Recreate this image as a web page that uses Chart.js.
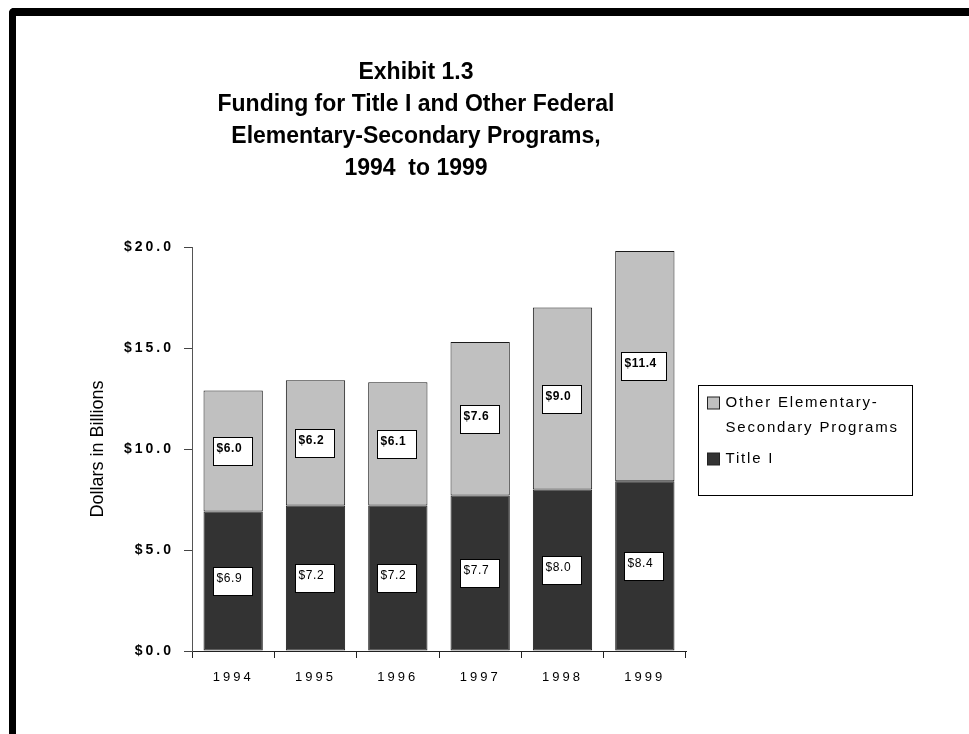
<!DOCTYPE html>
<html>
<head>
<meta charset="utf-8">
<script src="https://cdn.jsdelivr.net/npm/chart.js@4.4.0/dist/chart.umd.min.js"></script>
<style>
  html, body { margin: 0; padding: 0; background: #fff; }
  #wrap { position: relative; width: 969px; height: 734px; overflow: hidden; }
  #frame {
    position: absolute; left: 9px; top: 8px; width: 1000px; height: 800px;
    border-top: 8px solid #000; border-left: 7px solid #000;
    border-top-left-radius: 5px; box-sizing: border-box;
  }
  canvas { position: absolute; left: 0; top: 0; }
</style>
</head>
<body>
<div id="wrap">
  <canvas id="fundingChart" width="969" height="734"></canvas>
  <div id="frame"></div>
</div>
<script>
const FONT = '"Liberation Sans", Arial, sans-serif';

const years = ['1994', '1995', '1996', '1997', '1998', '1999'];
const titleOne = [6.9, 7.2, 7.2, 7.7, 8.0, 8.4];
const otherPrograms = [6.0, 6.2, 6.1, 7.6, 9.0, 11.4];
const yTicks = [0, 5, 10, 15, 20];
const titleLines = [
  'Exhibit 1.3',
  'Funding for Title I and Other Federal',
  'Elementary-Secondary Programs,',
  '1994  to 1999'
];
const legendLines = {
  other: ['Other Elementary-', 'Secondary Programs'],
  title: ['Title I']
};

const canvas = document.getElementById('fundingChart');

// tick labels are drawn after the bars (ticks.z = 1), so spacing is switched on there;
// axis title and grid keep normal spacing
const spacingPlugin = {
  id: 'spacing',
  beforeDraw(chart) {
    chart.ctx.letterSpacing = '0px';
  },
  afterDatasetsDraw(chart) {
    chart.ctx.letterSpacing = '3px';
  }
};

// four-line bold heading
const headingPlugin = {
  id: 'heading',
  afterDraw(chart) {
    const ctx = chart.ctx;
    ctx.save();
    ctx.letterSpacing = '0px';
    ctx.font = 'bold 23px ' + FONT;
    ctx.fillStyle = '#000';
    ctx.textAlign = 'center';
    ctx.textBaseline = 'middle';
    titleLines.forEach((line, i) => ctx.fillText(line, 416, 73 + i * 32));
    ctx.restore();
  }
};

// white boxes with the value of each segment
const valueBoxPlugin = {
  id: 'valueBoxes',
  afterDatasetsDraw(chart) {
    const ctx = chart.ctx;
    ctx.save();
    ctx.letterSpacing = '0.6px';
    chart.data.datasets.forEach((ds, di) => {
      const meta = chart.getDatasetMeta(di);
      ctx.font = ds.labelWeight + ' 12px ' + FONT;
      meta.data.forEach((bar, i) => {
        const p = bar.getProps(['x', 'y', 'base'], true);
        const cy = (p.y + p.base) / 2;
        const text = '$' + ds.data[i].toFixed(1);
        const w = ctx.measureText(text).width;
        const bw = Math.round(w + 13), bh = 28;
        const left = Math.round(p.x - bw / 2) - 0.5;
        const top = Math.round(cy - bh / 2) + 0.5;
        ctx.fillStyle = '#fff';
        ctx.fillRect(left, top, bw, bh);
        ctx.strokeStyle = '#000';
        ctx.lineWidth = 1;
        ctx.strokeRect(left, top, bw, bh);
        ctx.fillStyle = '#000';
        ctx.textAlign = 'left';
        ctx.textBaseline = 'middle';
        ctx.fillText(text, left + 3, cy - 2);
      });
    });
    ctx.restore();
  }
};

// boxed legend on the right, top series first
const legendBoxPlugin = {
  id: 'legendBox',
  afterDraw(chart) {
    const ctx = chart.ctx;
    const area = chart.chartArea;
    const left = Math.round(area.right + 12) + 0.5;
    const top = 385.5;
    ctx.save();
    ctx.fillStyle = '#fff';
    ctx.fillRect(left, top, 214, 110);
    ctx.strokeStyle = '#000';
    ctx.lineWidth = 1;
    ctx.strokeRect(left, top, 214, 110);
    ctx.letterSpacing = '1.8px';
    ctx.font = '15px ' + FONT;
    ctx.textAlign = 'left';
    ctx.textBaseline = 'middle';
    let y = 403;
    chart.data.datasets.slice().reverse().forEach(ds => {
      ctx.fillStyle = ds.backgroundColor;
      ctx.fillRect(left + 9, y - 6, 12, 12);
      ctx.strokeStyle = '#222';
      ctx.strokeRect(left + 9, y - 6, 12, 12);
      ctx.fillStyle = '#000';
      ds.legendLines.forEach(line => {
        ctx.fillText(line, left + 27, y);
        y += 25;
      });
      y += 6;
    });
    ctx.restore();
  }
};

new Chart(canvas, {
  type: 'bar',
  data: {
    labels: years,
    datasets: [
      {
        label: 'Title I',
        data: titleOne,
        backgroundColor: '#333333',
        borderColor: '#1a1a1a',
        borderWidth: 1,
        borderSkipped: false,
        labelWeight: 'normal',
        legendLines: legendLines.title
      },
      {
        label: 'Other Elementary-Secondary Programs',
        data: otherPrograms,
        backgroundColor: '#c0c0c0',
        borderColor: '#1a1a1a',
        borderWidth: 1,
        borderSkipped: false,
        labelWeight: 'bold',
        legendLines: legendLines.other
      }
    ]
  },
  options: {
    responsive: false,
    animation: false,
    devicePixelRatio: 1,
    layout: {
      padding: { left: 87, right: 283, top: 247, bottom: 43 }
    },
    plugins: {
      legend: { display: false },
      title: { display: false },
      tooltip: { enabled: false }
    },
    scales: {
      x: {
        stacked: true,
        categoryPercentage: 1,
        barPercentage: 0.675,
        grid: { offset: true, drawOnChartArea: false, tickLength: 7, color: '#222' },
        border: { color: '#222', width: 1 },
        ticks: { z: 1, color: '#000', font: { family: FONT, size: 13 }, padding: 12 },
        afterFit(scale) { scale.height = 40; }
      },
      y: {
        stacked: true,
        min: 0,
        max: 20,
        afterBuildTicks(scale) { scale.ticks = yTicks.map(v => ({ value: v })); },
        grid: { drawOnChartArea: false, tickLength: 8, color: '#444' },
        border: { color: '#555', width: 1 },
        ticks: {
          z: 1,
          color: '#000',
          font: { family: FONT, size: 14, weight: 'bold' },
          padding: 10,
          callback: v => '$' + Number(v).toFixed(1)
        },
        title: {
          display: true,
          text: 'Dollars in Billions',
          color: '#000',
          font: { family: FONT, size: 18 },
          padding: 0
        },
        afterFit(scale) { scale.width = 105; }
      }
    }
  },
  plugins: [spacingPlugin, valueBoxPlugin, legendBoxPlugin, headingPlugin]
});
</script>
</body>
</html>
